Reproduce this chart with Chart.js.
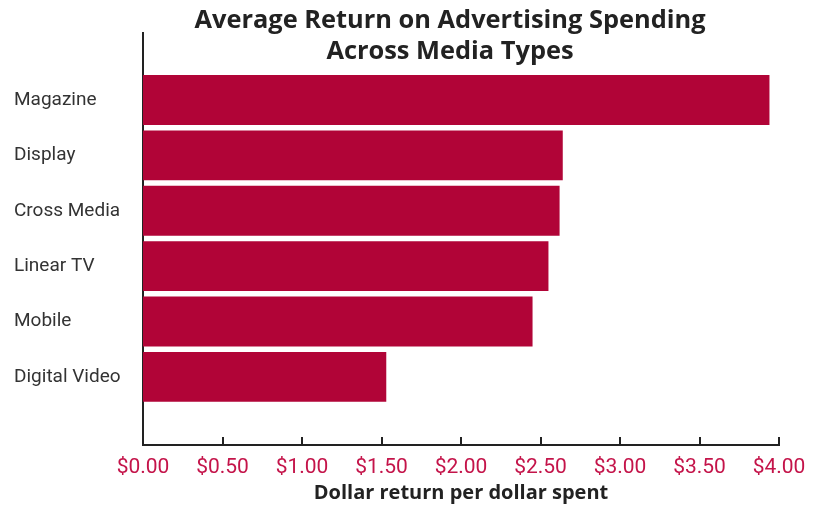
<!DOCTYPE html>
<html>
<head>
<meta charset="utf-8">
<script src="https://cdn.jsdelivr.net/npm/chart.js@4/dist/chart.umd.min.js"></script>
<style>
  html, body { margin: 0; padding: 0; background: #fff; }
  #wrap { width: 816px; height: 507px; }
</style>
</head>
<body>
<div id="wrap"><canvas id="chart"></canvas></div>
<script>
const mediaTypes = ["Magazine", "Display", "Cross Media", "Linear TV", "Mobile", "Digital Video"];
const returns = [3.94, 2.64, 2.62, 2.55, 2.45, 1.53];
const dollarTicks = [0, 0.5, 1, 1.5, 2, 2.5, 3, 3.5, 4];
const titleLines = ["Average Return on Advertising Spending", "Across Media Types"];

const barColor = "#b10437";
const tickColor = "#c4144a";
const inkColor = "#222";
const narrow = "'Liberation Sans Narrow', 'Roboto', sans-serif";
const heavy = "'Open Sans', 'DejaVu Sans', sans-serif";

// title drawn on top so the axis line can run up under it
const titlePlugin = {
    id: "twoLineTitle",
    afterDraw(chart) {
        const ctx = chart.ctx;
        ctx.save();
        ctx.fillStyle = inkColor;
        ctx.font = "bold 25.4px " + heavy;
        ctx.textAlign = "center";
        ctx.textBaseline = "middle";
        ctx.fillText(titleLines[0], 450, 21);
        ctx.fillText(titleLines[1], 450, 52);
        ctx.restore();
    }
};

// small tick marks pointing up from the x axis line
const tickMarks = {
    id: "tickMarks",
    afterDraw(chart) {
        const ctx = chart.ctx;
        const x = chart.scales.x;
        const bottom = chart.chartArea.bottom;
        ctx.save();
        ctx.strokeStyle = inkColor;
        ctx.lineWidth = 2;
        dollarTicks.forEach(v => {
            const px = Math.round(x.getPixelForValue(v));
            ctx.beginPath();
            ctx.moveTo(px, bottom);
            ctx.lineTo(px, bottom - 8);
            ctx.stroke();
        });
        ctx.restore();
    }
};

new Chart(document.getElementById("chart"), {
    type: "bar",
    data: {
        datasets: [{
            data: returns.map((v, i) => ({x: v, y: i})),
            backgroundColor: barColor,
            categoryPercentage: 1,
            barPercentage: 0.9
        }]
    },
    options: {
        indexAxis: "y",
        responsive: true,
        maintainAspectRatio: false,
        animation: false,
        layout: { padding: { top: 33, left: 14, right: 37, bottom: 0 } },
        plugins: { legend: { display: false }, tooltip: { enabled: false } },
        scales: {
            x: {
                type: "linear",
                min: 0,
                max: 4,
                afterBuildTicks: s => { s.ticks = dollarTicks.map(v => ({value: v})); },
                afterFit: s => { s.height = 62; },
                grid: { display: false, drawTicks: false },
                border: { display: true, color: inkColor, width: 2 },
                ticks: {
                    color: tickColor,
                    padding: 10,
                    font: { family: narrow, size: 21 },
                    callback: v => "$" + Number(v).toFixed(2)
                },
                title: {
                    display: true,
                    text: "Dollar return per dollar spent",
                    color: inkColor,
                    padding: { top: 0, bottom: 2 },
                    font: { family: heavy, size: 20, weight: "bold" }
                }
            },
            y: {
                type: "linear",
                reverse: true,
                offset: false,
                min: -1.21,
                max: 6.23,
                afterBuildTicks: s => { s.ticks = mediaTypes.map((c, i) => ({value: i})); },
                afterFit: s => { s.width = 129; },
                grid: { display: false, drawTicks: false, offset: false },
                border: { display: true, color: inkColor, width: 2 },
                ticks: {
                    color: "#333",
                    crossAlign: "far",
                    font: { family: narrow, size: 19 },
                    callback: v => mediaTypes[v]
                }
            }
        }
    },
    plugins: [titlePlugin, tickMarks]
});
</script>
</body>
</html>
